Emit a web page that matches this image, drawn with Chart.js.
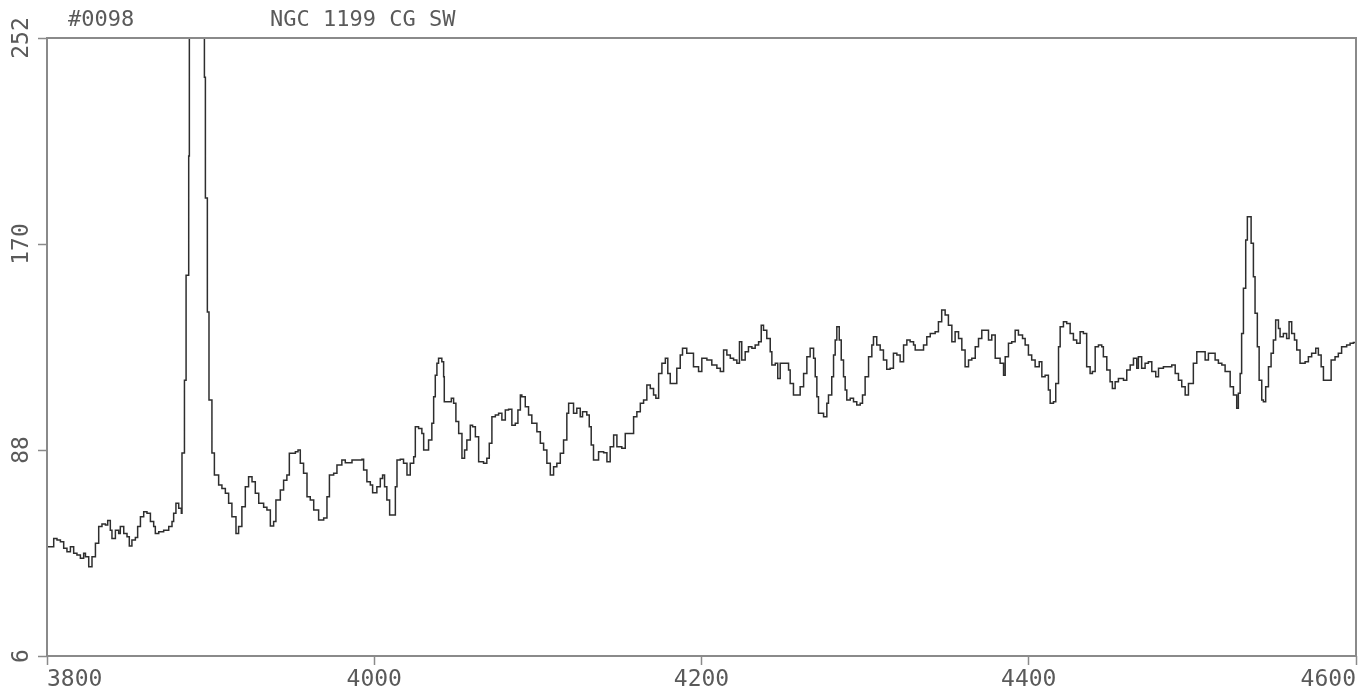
<!DOCTYPE html>
<html>
<head>
<meta charset="utf-8">
<title>NGC 1199 CG SW</title>
<script src="https://cdn.jsdelivr.net/npm/chart.js@4/dist/chart.umd.min.js"></script>
<style>
  html, body { margin: 0; padding: 0; background: #ffffff; overflow: hidden; }
  canvas { display: block; }
</style>
</head>
<body>
<canvas id="spectrum" width="1368" height="694"></canvas>
<script>
// Spectrum of NGC 1199 CG SW: wavelength (Angstrom) and counts, one step per entry.
const wavelength = [
  3800.0, 3804.1, 3806.1, 3808.2, 3810.2, 3812.2, 3814.3, 3816.3, 3818.3, 3820.4,
  3822.4, 3823.5, 3825.5, 3827.5, 3829.6, 3831.6, 3833.6, 3835.7, 3837.1, 3838.7,
  3839.7, 3841.8, 3843.8, 3844.8, 3846.9, 3848.9, 3850.3, 3851.9, 3854.0, 3855.4,
  3857.1, 3859.1, 3861.1, 3863.2, 3865.2, 3866.2, 3868.3, 3871.3, 3874.4, 3876.4,
  3877.4, 3878.8, 3880.5, 3882.1, 3882.5, 3884.0, 3885.0, 3886.6, 3887.0, 3890.5,
  3894.0, 3896.2, 3896.8, 3898.0, 3899.0, 3900.8, 3902.3, 3904.9, 3906.9, 3909.0,
  3911.0, 3913.0, 3915.5, 3917.1, 3919.1, 3921.2, 3923.2, 3925.3, 3927.3, 3929.4,
  3932.4, 3934.4, 3936.5, 3938.5, 3939.9, 3942.6, 3944.6, 3946.6, 3948.1, 3951.8,
  3953.4, 3954.8, 3956.8, 3958.9, 3960.9, 3963.0, 3966.0, 3969.1, 3971.1, 3972.6,
  3975.2, 3977.2, 3980.2, 3982.3, 3986.4, 3992.5, 3993.5, 3995.5, 3997.6, 3999.0,
  4001.6, 4003.7, 4005.1, 4006.3, 4007.7, 4009.4, 4012.9, 4013.9, 4015.9, 4017.9,
  4020.0, 4022.0, 4024.1, 4025.1, 4027.1, 4029.1, 4030.2, 4032.2, 4033.2, 4035.2,
  4036.3, 4037.3, 4038.3, 4039.3, 4041.3, 4042.4, 4042.8, 4045.4, 4047.1, 4048.5,
  4049.9, 4051.6, 4053.6, 4055.2, 4056.6, 4058.7, 4060.1, 4061.8, 4063.8, 4066.8,
  4068.8, 4070.3, 4071.9, 4074.0, 4076.0, 4078.0, 4080.1, 4082.1, 4084.1, 4086.2,
  4087.8, 4089.3, 4090.2, 4092.3, 4094.3, 4096.3, 4099.4, 4101.5, 4103.5, 4105.5,
  4107.6, 4109.6, 4111.6, 4113.7, 4115.7, 4117.7, 4118.8, 4120.8, 4121.8, 4123.8,
  4125.9, 4127.3, 4129.9, 4131.4, 4132.6, 4134.0, 4137.1, 4140.2, 4142.2, 4144.2,
  4146.3, 4148.3, 4151.3, 4153.4, 4156.5, 4158.5, 4160.5, 4162.6, 4164.6, 4166.6,
  4168.7, 4170.7, 4172.1, 4173.8, 4175.8, 4177.9, 4179.4, 4180.9, 4183.5, 4184.9,
  4187.0, 4188.4, 4191.0, 4193.1, 4195.1, 4198.2, 4200.2, 4203.3, 4206.3, 4209.4,
  4211.5, 4213.5, 4215.5, 4217.6, 4219.6, 4221.6, 4223.2, 4224.6, 4226.7, 4228.7,
  4230.8, 4232.8, 4234.9, 4236.5, 4237.9, 4239.9, 4242.0, 4243.0, 4245.1, 4246.6,
  4248.1, 4251.2, 4253.2, 4254.2, 4256.2, 4258.3, 4260.3, 4262.4, 4264.4, 4266.4,
  4268.5, 4269.5, 4270.5, 4271.5, 4274.6, 4276.6, 4277.6, 4279.6, 4280.7, 4281.7,
  4282.7, 4284.2, 4285.4, 4286.8, 4287.8, 4288.8, 4290.9, 4292.9, 4294.9, 4297.0,
  4298.4, 4300.0, 4302.1, 4304.1, 4305.1, 4307.1, 4309.2, 4311.2, 4313.2, 4315.3,
  4317.3, 4319.4, 4321.4, 4323.5, 4325.5, 4327.5, 4329.6, 4330.6, 4332.6, 4335.7,
  4337.7, 4339.8, 4342.8, 4344.8, 4346.8, 4348.9, 4350.9, 4353.0, 4355.0, 4357.1,
  4359.1, 4361.1, 4363.2, 4365.2, 4367.3, 4369.3, 4371.3, 4373.4, 4375.4, 4377.4,
  4379.5, 4382.5, 4384.6, 4385.6, 4387.6, 4389.6, 4391.7, 4393.7, 4396.2, 4397.8,
  4399.8, 4401.8, 4403.9, 4406.4, 4408.0, 4410.0, 4412.0, 4413.1, 4415.1, 4416.5,
  4418.2, 4419.2, 4421.2, 4423.2, 4425.3, 4427.3, 4429.3, 4431.4, 4433.4, 4435.4,
  4437.5, 4438.9, 4440.6, 4442.6, 4444.6, 4445.6, 4447.7, 4449.7, 4451.1, 4452.8,
  4454.8, 4457.9, 4459.9, 4462.0, 4464.0, 4466.0, 4467.0, 4469.0, 4471.1, 4473.1,
  4475.2, 4477.6, 4479.3, 4482.3, 4485.4, 4487.4, 4489.5, 4491.5, 4493.5, 4495.6,
  4497.6, 4500.6, 4502.7, 4505.7, 4507.8, 4509.8, 4511.8, 4513.9, 4515.9, 4518.0,
  4520.0, 4523.1, 4525.1, 4527.1, 4528.1, 4529.2, 4530.1, 4531.2, 4532.6, 4533.6,
  4535.3, 4535.9, 4537.3, 4538.3, 4539.7, 4540.8, 4542.4, 4543.4, 4544.8, 4546.5,
  4548.1, 4549.5, 4550.9, 4552.6, 4553.6, 4555.6, 4557.6, 4559.1, 4560.7, 4562.4,
  4563.8, 4565.8, 4568.9, 4570.9, 4572.9, 4575.4, 4577.0, 4578.7, 4580.1, 4582.7,
  4584.8, 4587.2, 4589.2, 4591.2, 4594.3, 4596.4, 4598.4, 4600.0
];

const flux = [
  49.5, 52.8, 52.2, 51.5, 48.9, 47.5, 49.5, 46.9, 46.2, 44.9,
  46.9, 45.5, 41.5, 45.5, 50.9, 57.5, 58.5, 58.1, 59.9, 56.1,
  52.8, 56.1, 54.8, 57.5, 54.8, 53.5, 49.8, 52.2, 53.2, 57.5,
  61.4, 63.4, 62.8, 59.5, 57.5, 54.8, 55.5, 56.1, 57.5, 59.5,
  62.8, 66.8, 64.8, 62.8, 86.8, 115.8, 157.6, 205.0, 300.0, 330.0,
  310.0, 236.4, 188.3, 142.9, 107.9, 86.8, 78.0, 74.1, 72.7, 70.8,
  66.8, 61.4, 54.8, 57.5, 65.4, 73.4, 77.4, 75.4, 70.8, 66.8,
  65.2, 64.1, 57.7, 59.5, 68.1, 72.1, 76.0, 78.0, 86.7, 87.3,
  88.0, 82.7, 78.7, 69.4, 68.1, 64.1, 60.1, 60.9, 69.4, 78.0,
  78.7, 82.0, 84.0, 82.9, 84.0, 84.3, 80.0, 75.4, 74.1, 71.0,
  73.4, 76.7, 78.0, 73.4, 68.1, 62.1, 73.4, 84.0, 84.3, 82.7,
  78.0, 82.7, 85.3, 97.3, 96.6, 94.6, 88.0, 88.0, 92.0, 98.6,
  109.2, 117.8, 122.5, 124.5, 123.1, 117.2, 107.2, 107.2, 108.6, 106.6,
  99.3, 94.6, 84.7, 88.0, 92.0, 97.9, 97.3, 93.3, 83.3, 82.7,
  84.7, 90.7, 101.2, 101.9, 102.6, 99.9, 103.9, 104.2, 97.9, 98.6,
  103.9, 109.9, 109.2, 105.2, 101.9, 98.6, 95.3, 90.7, 88.0, 82.7,
  78.0, 81.3, 82.7, 86.7, 92.0, 102.6, 106.6, 106.6, 102.6, 104.6,
  101.2, 103.2, 101.9, 97.3, 90.0, 84.0, 87.3, 86.9, 83.3, 89.3,
  94.0, 89.3, 88.7, 94.6, 94.6, 101.2, 103.2, 106.6, 107.9, 113.9,
  112.5, 109.9, 108.6, 118.5, 122.5, 124.5, 118.5, 114.5, 114.5, 120.5,
  125.8, 128.5, 126.5, 126.5, 121.1, 119.2, 124.5, 123.8, 121.8, 120.5,
  119.2, 127.8, 125.8, 124.5, 123.8, 122.5, 131.1, 123.8, 127.1, 129.1,
  128.5, 129.8, 131.1, 137.7, 135.7, 132.4, 127.1, 121.8, 122.5, 116.5,
  122.5, 122.5, 119.8, 114.5, 109.9, 109.9, 113.2, 118.5, 125.1, 128.5,
  124.5, 117.2, 109.2, 102.6, 101.2, 106.6, 109.9, 117.2, 125.8, 131.8,
  137.1, 131.8, 123.8, 117.2, 111.9, 107.9, 108.6, 107.2, 105.9, 106.6,
  109.9, 117.2, 125.1, 129.8, 133.1, 129.8, 127.8, 123.8, 120.1, 120.5,
  126.5, 125.8, 123.1, 129.8, 131.8, 131.1, 129.8, 127.8, 127.8, 129.8,
  133.1, 134.4, 135.1, 139.1, 143.7, 141.7, 137.7, 131.1, 135.1, 132.4,
  127.8, 121.1, 123.8, 124.5, 129.1, 132.4, 135.7, 135.7, 131.8, 133.8,
  124.5, 122.5, 117.8, 125.1, 130.5, 131.1, 135.7, 133.8, 132.4, 129.8,
  125.8, 123.8, 121.1, 123.1, 117.2, 117.8, 111.9, 106.6, 107.2, 114.5,
  129.1, 137.1, 139.1, 138.4, 134.4, 131.8, 130.5, 135.1, 134.4, 121.1,
  118.5, 119.2, 129.1, 129.8, 129.1, 125.1, 119.8, 115.2, 112.5, 115.2,
  116.5, 115.8, 119.8, 121.8, 124.5, 120.5, 125.1, 120.5, 122.5, 123.1,
  119.2, 117.2, 120.5, 121.1, 121.1, 121.8, 118.5, 115.8, 113.2, 109.9,
  114.5, 122.5, 127.1, 127.1, 123.8, 126.5, 126.5, 123.8, 122.5, 121.8,
  119.2, 113.2, 109.9, 104.6, 110.6, 118.5, 134.4, 152.4, 171.6, 180.8,
  180.8, 170.3, 157.0, 142.4, 129.1, 115.8, 107.9, 107.2, 113.2, 121.1,
  126.5, 131.8, 139.7, 136.4, 133.1, 134.4, 132.4, 139.1, 134.4, 131.8,
  127.8, 122.5, 123.1, 125.1, 126.5, 128.5, 125.8, 121.1, 115.8, 115.8,
  123.8, 125.1, 126.5, 129.1, 129.8, 130.5, 130.8, 130.8
];

const xTickValues = [3800, 4000, 4200, 4400, 4600];
const yTickValues = [6, 88, 170, 252];
const plateLabel = '#0098';
const objectLabel = 'NGC 1199 CG SW';

const TEXT_FONT = "'DejaVu Sans Mono', 'Liberation Mono', monospace";
const TICK_SIZE = 23;
const HEADER_SIZE = 22;
const TEXT_COLOR = '#5a5a5a';
const FRAME_COLOR = '#8a8a8a';

// Box around the plotting area plus the two header captions.
const framePlugin = {
  id: 'plotFrame',
  afterDatasetsDraw(chart) {
    const { ctx, chartArea: a } = chart;
    ctx.save();
    ctx.strokeStyle = FRAME_COLOR;
    ctx.lineWidth = 2;
    ctx.strokeRect(a.left, a.top, a.right - a.left, a.bottom - a.top);
    ctx.restore();
  },
  afterDraw(chart) {
    const { ctx } = chart;
    ctx.save();
    ctx.fillStyle = TEXT_COLOR;
    ctx.font = `${HEADER_SIZE}px ${TEXT_FONT}`;
    ctx.textAlign = 'left';
    ctx.textBaseline = 'alphabetic';
    ctx.fillText(plateLabel, 68, 26);
    ctx.fillText(objectLabel, 270, 26);
    ctx.restore();
  }
};

const points = wavelength.map((w, i) => ({ x: w, y: flux[i] }));

new Chart(document.getElementById('spectrum'), {
  type: 'line',
  data: {
    datasets: [{
      data: points,
      stepped: true,
      borderColor: '#2e2e2e',
      borderWidth: 1.5,
      pointRadius: 0,
      fill: false,
      tension: 0
    }]
  },
  options: {
    responsive: false,
    animation: false,
    devicePixelRatio: 1,
    layout: { padding: { top: 38, right: 12, left: 0, bottom: 0 } },
    plugins: {
      legend: { display: false },
      tooltip: { enabled: false },
      title: { display: false }
    },
    scales: {
      x: {
        type: 'linear',
        min: 3800,
        max: 4600,
        afterBuildTicks(scale) { scale.ticks = xTickValues.map(v => ({ value: v })); },
        afterFit(scale) { scale.height = 38; },
        border: { display: false },
        grid: {
          display: true,
          drawOnChartArea: false,
          drawTicks: true,
          tickLength: 9,
          tickColor: FRAME_COLOR,
          tickWidth: 1.5
        },
        ticks: {
          align: 'inner',
          maxRotation: 0,
          minRotation: 0,
          padding: 1,
          color: TEXT_COLOR,
          font: { family: TEXT_FONT, size: TICK_SIZE },
          callback: v => String(v)
        }
      },
      y: {
        type: 'linear',
        min: 6,
        max: 252,
        afterBuildTicks(scale) { scale.ticks = yTickValues.map(v => ({ value: v })); },
        afterFit(scale) { scale.width = 47; },
        border: { display: false },
        grid: {
          display: true,
          drawOnChartArea: false,
          drawTicks: true,
          tickLength: 9,
          tickColor: FRAME_COLOR,
          tickWidth: 1.5
        },
        ticks: {
          minRotation: 90,
          maxRotation: 90,
          crossAlign: 'center',
          padding: -5,
          color: TEXT_COLOR,
          font: { family: TEXT_FONT, size: TICK_SIZE },
          callback: v => String(v)
        }
      }
    }
  },
  plugins: [framePlugin]
});
</script>
</body>
</html>
